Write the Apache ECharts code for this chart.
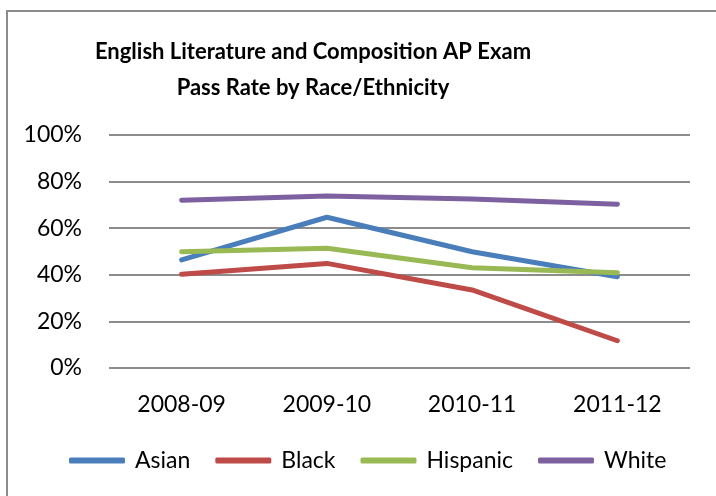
<!DOCTYPE html>
<html>
<head>
<meta charset="utf-8">
<script src="https://cdn.jsdelivr.net/npm/echarts@6/dist/echarts.min.js"></script>
<style>
  html, body { margin: 0; padding: 0; background: #fff; }
  #main { width: 716px; height: 496px; }
</style>
</head>
<body>
<div id="main"></div>
<script>
/* AP exam pass rate chart */
var years = ['2008-09', '2009-10', '2010-11', '2011-12'];
var asian = [46.4, 64.7, 49.9, 39.2];
var black = [40.2, 44.9, 33.5, 11.7];
var hispanic = [49.9, 51.4, 43.0, 40.9];
var white = [72.0, 73.8, 72.5, 70.3];
var yTicks = [0, 20, 40, 60, 80, 100];

(function(){
	var myChart = echarts.init(document.getElementById('main'));
	var font = 'Lato, "Liberation Sans", sans-serif';

	function line(name, data, color) {
		return {
			name: name,
			type: 'line',
			data: data,
			symbol: 'none',
			lineStyle: { width: 5, color: color, cap: 'round', join: 'round' },
			itemStyle: { color: color }
		};
	}

	var option = {
		backgroundColor: '#fff',
		animation: false,
		graphic: [
			{
				type: 'rect',
				shape: { x: 7, y: 11, width: 800, height: 600 },
				style: { fill: 'none', stroke: '#8c8c8c', lineWidth: 2 },
				z: 100
			}
		],
		title: {
			text: 'English Literature and Composition AP Exam\nPass Rate by Race/Ethnicity',
			left: 308,
			textAlign: 'center',
			top: 29,
			textStyle: { fontFamily: font, fontSize: 22, fontWeight: 'bold', color: '#000', lineHeight: 36 }
		},
		legend: {
			data: ['Asian', 'Black', 'Hispanic', 'White'],
			top: 444,
			left: 64,
			itemWidth: 56,
			itemHeight: 6,
			itemGap: 25,
			icon: 'roundRect',
			textStyle: { fontFamily: font, fontSize: 23, color: '#000', padding: [0, 0, 0, 5] }
		},
		grid: { left: 109, right: 26, top: 135, bottom: 128 },
		xAxis: {
			type: 'category',
			data: years,
			boundaryGap: true,
			axisLine: { show: false },
			axisTick: { show: false },
			axisLabel: { fontFamily: font, fontSize: 23, color: '#000', margin: 25 }
		},
		yAxis: {
			type: 'value',
			min: yTicks[0],
			max: yTicks[yTicks.length - 1],
			interval: 20,
			axisLine: { show: false },
			axisTick: { show: false },
			axisLabel: { fontFamily: font, fontSize: 23, color: '#000', margin: 27, formatter: '{value}%' },
			splitLine: { lineStyle: { color: '#8c8c8c', width: 2 } }
		},
		series: [
			line('Asian', asian, '#4a7ebb'),
			line('Black', black, '#be4b48'),
			line('Hispanic', hispanic, '#98b954'),
			line('White', white, '#7d60a0')
		]
	};
	myChart.setOption(option);
})();
</script>
</body>
</html>
